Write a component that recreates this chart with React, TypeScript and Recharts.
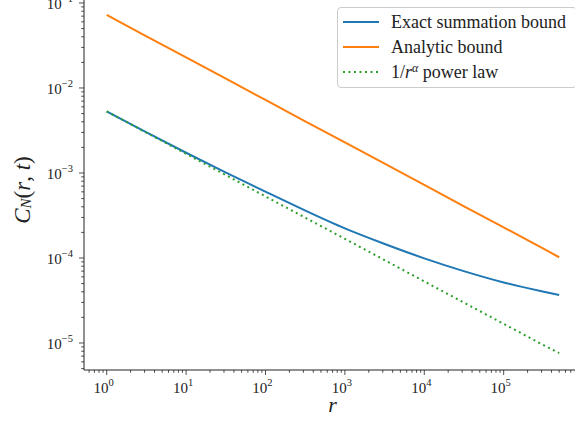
import { Legend, Line, LineChart, XAxis, YAxis } from 'recharts'

// values (log-log)
const rValues = [1, 3, 10, 30, 100, 300, 1000, 3000, 1e4, 3e4, 1e5, 3e5, 5e5]
const exactBound = [
  5.3e-3, 3.09e-3, 1.73e-3, 1.035e-3, 6.03e-4, 3.7e-4, 2.23e-4, 1.49e-4, 9.9e-5, 7.1e-5, 5.15e-5,
  4.05e-5, 3.66e-5
]
const analyticBound = [
  7.23e-2, 4.17e-2, 2.29e-2, 1.32e-2, 7.23e-3, 4.17e-3, 2.29e-3, 1.32e-3, 7.23e-4, 4.17e-4, 2.29e-4,
  1.32e-4, 1.02e-4
]
const powerLaw = [
  5.3e-3, 3.06e-3, 1.68e-3, 9.7e-4, 5.3e-4, 3.06e-4, 1.68e-4, 9.7e-5, 5.3e-5, 3.06e-5, 1.68e-5,
  9.7e-6, 7.6e-6
]

const xMajor = [1, 10, 100, 1e3, 1e4, 1e5]
const yMajor = [1e-5, 1e-4, 1e-3, 1e-2, 1e-1]
const xDomain = [0.5176, 941900]
const yDomain = [4.81e-6, 0.1084]

const FONT = '"Liberation Serif", "DejaVu Serif", serif'
const BLUE = '#1f77b4'
const ORANGE = '#ff7f0e'
const GREEN = '#2ca02c'

const withMinors = (majors: number[], lo: number, hi: number) => {
  const out: number[] = []
  for (const m of [majors[0] / 10, ...majors]) {
    for (let k = 1; k <= 9; k++) {
      const v = m * k
      if (v >= lo && v <= hi) out.push(v)
    }
  }
  return out
}

const xTicks = withMinors(xMajor, xDomain[0], xDomain[1])
const yTicks = withMinors(yMajor, yDomain[0], yDomain[1])

const rows = rValues.map((r, i) => ({
  r,
  exact: exactBound[i],
  analytic: analyticBound[i],
  power: powerLaw[i]
}))

const isMajor = (v: number) => Math.abs(Math.log10(v) - Math.round(Math.log10(v))) < 1e-6
const expLabel = (v: number) => {
  const e = Math.round(Math.log10(v))
  return e < 0 ? `\u2212${-e}` : `${e}`
}

function XTick(props: any) {
  const { x, y, payload } = props
  const major = isMajor(payload.value)
  return (
    <g>
      <line x1={x} x2={x} y1={y} y2={y + (major ? 5 : 2.8)} stroke="#222" strokeWidth={0.8} />
      {major && (
        <text x={x - 3} y={y + 23} textAnchor="middle" fontFamily={FONT} fontSize={15} fill="#222">
          10
          <tspan dy={-7} fontSize={10.5}>
            {expLabel(payload.value)}
          </tspan>
        </text>
      )}
    </g>
  )
}

function YTick(props: any) {
  const { x, y, payload } = props
  const major = isMajor(payload.value)
  return (
    <g>
      <line x1={x} x2={x - (major ? 5 : 2.8)} y1={y} y2={y} stroke="#222" strokeWidth={0.8} />
      {major && (
        <text x={x - 11} y={y + 6} textAnchor="end" fontFamily={FONT} fontSize={15} fill="#222">
          10
          <tspan dy={-7} fontSize={10.5}>
            {expLabel(payload.value)}
          </tspan>
        </text>
      )}
    </g>
  )
}

function LegendBox() {
  const items = [
    { color: BLUE, dash: undefined, label: <>Exact summation bound</> },
    { color: ORANGE, dash: undefined, label: <>Analytic bound</> },
    {
      color: GREEN,
      dash: '2 3.5',
      label: (
        <>
          1/<i>r</i>
          <sup style={{ fontSize: 12, fontStyle: 'italic', verticalAlign: 6 }}>α</sup> power law
        </>
      )
    }
  ]
  return (
    <div
      style={{
        width: 240,
        height: 81,
        boxSizing: 'border-box',
        border: '1px solid #cccccc',
        borderRadius: 4,
        background: 'rgba(255,255,255,0.8)',
        position: 'relative',
        fontFamily: FONT,
        fontSize: 18,
        color: '#222'
      }}
    >
      {items.map((it, i) => (
        <div
          key={i}
          style={{
            position: 'absolute',
            left: 5,
            top: 14 + i * 25 - 11,
            height: 22,
            display: 'flex',
            alignItems: 'center',
            whiteSpace: 'nowrap'
          }}
        >
          <svg width={36} height={4} style={{ marginRight: 12 }}>
            <line x1={0} x2={36} y1={2} y2={2} stroke={it.color} strokeWidth={2} strokeDasharray={it.dash} />
          </svg>
          <span>{it.label}</span>
        </div>
      ))}
    </div>
  )
}

export default function App() {
  return (
    <div
      style={{
        position: 'absolute',
        left: 0,
        top: 0,
        width: 575,
        height: 425,
        overflow: 'hidden',
        background: '#fff'
      }}
    >
      <LineChart width={582} height={425} data={rows} margin={{ top: 0, right: 1, bottom: 0, left: 0 }}>
        <XAxis
          dataKey="r"
          type="number"
          scale="log"
          domain={xDomain}
          allowDataOverflow
          ticks={xTicks}
          interval={0}
          tick={XTick}
          tickLine={false}
          tickSize={0}
          tickMargin={0}
          height={55}
          axisLine={{ stroke: '#222', strokeWidth: 1 }}
          label={({ viewBox }: any) => (
            <text
              x={viewBox.x + viewBox.width / 2}
              y={viewBox.y + 42}
              textAnchor="middle"
              fontFamily={FONT}
              fontSize={22}
              fontStyle="italic"
              fill="#222"
            >
              r
            </text>
          )}
        />
        <XAxis xAxisId="top" orientation="top" height={0} tick={false} tickLine={false} axisLine={{ stroke: '#222', strokeWidth: 1 }} />
        <YAxis
          type="number"
          scale="log"
          domain={yDomain}
          allowDataOverflow
          ticks={yTicks}
          interval={0}
          tick={YTick}
          tickLine={false}
          tickSize={0}
          tickMargin={0}
          width={84}
          axisLine={{ stroke: '#222', strokeWidth: 1 }}
          label={({ viewBox }: any) => {
            const cx = 22
            const cy = viewBox.y + viewBox.height / 2 + 5
            return (
              <text
                x={cx}
                y={cy}
                transform={`rotate(-90, ${cx}, ${cy})`}
                textAnchor="middle"
                dominantBaseline="central"
                fontFamily={FONT}
                fontSize={23}
                fill="#222"
              >
                <tspan fontStyle="italic">C</tspan>
                <tspan fontStyle="italic" fontSize={15} dy={4}>
                  N
                </tspan>
                <tspan dy={-4}>(</tspan>
                <tspan fontStyle="italic">r</tspan>
                <tspan>, </tspan>
                <tspan fontStyle="italic">t</tspan>
                <tspan>)</tspan>
              </text>
            )
          }}
        />
        <Legend
          layout="vertical"
          align="center"
          verticalAlign="middle"
          content={() => <LegendBox />}
          wrapperStyle={{ left: 337, top: 7, width: 240, height: 81 }}
        />
        <Line
          dataKey="exact"
          type="monotone"
          stroke={BLUE}
          strokeWidth={2}
          dot={false}
          isAnimationActive={false}
        />
        <Line
          dataKey="analytic"
          type="linear"
          stroke={ORANGE}
          strokeWidth={2}
          dot={false}
          isAnimationActive={false}
        />
        <Line
          dataKey="power"
          type="linear"
          stroke={GREEN}
          strokeWidth={2}
          strokeDasharray="2 3.5"
          dot={false}
          isAnimationActive={false}
        />
      </LineChart>
    </div>
  )
}
